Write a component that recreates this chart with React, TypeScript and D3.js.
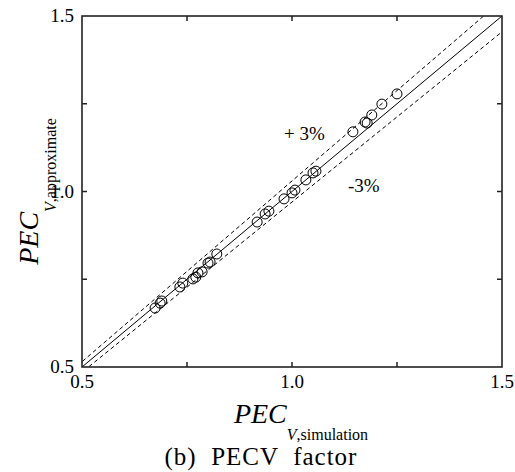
import React, { useRef, useEffect } from "react";
import { select, scaleLinear, line, range } from "d3";

// PEC_V simulation vs approximate values
const simValues = [
  0.674, 0.686, 0.69, 0.733, 0.74, 0.764, 0.771, 0.776, 0.786, 0.8, 0.805, 0.821,
  0.917, 0.936, 0.945, 0.981, 1.0, 1.007, 1.033, 1.05, 1.057,
  1.145, 1.174, 1.179, 1.19, 1.214, 1.25,
];
const approxValues = [
  0.668, 0.682, 0.688, 0.728, 0.739, 0.751, 0.756, 0.768, 0.771, 0.796, 0.799, 0.822,
  0.913, 0.936, 0.944, 0.979, 0.996, 1.004, 1.033, 1.053, 1.058,
  1.17, 1.198, 1.195, 1.218, 1.249, 1.278,
];
const tickLabels = ["0.5", "1.0", "1.5"];
const minorTicks = [0.75, 1.0, 1.25];
const bandFactors = [1.03, 0.97];

const W = 515;
const H = 472;
const left = 82;
const right = 502;
const top = 16;
const bottom = 367;
const serif = "Liberation Serif, DejaVu Serif, serif";

const App: React.FC = () => {
  const svgRef = useRef<SVGSVGElement>(null);

  useEffect(() => {
    const svg = select(svgRef.current);
    svg.selectAll("*").remove();

    const x = scaleLinear().domain([0.5, 1.5]).range([left, right]);
    const y = scaleLinear().domain([0.5, 1.5]).range([bottom, top]);

    svg
      .append("defs")
      .append("clipPath")
      .attr("id", "plot-clip")
      .append("rect")
      .attr("x", left)
      .attr("y", top)
      .attr("width", right - left)
      .attr("height", bottom - top);

    const plot = svg.append("g").attr("clip-path", "url(#plot-clip)");
    const diag = line<number>()
      .x((d) => x(d))
      .y((d) => y(d));
    const xs = range(0.4, 1.61, 0.1);

    plot
      .append("path")
      .attr("d", diag(xs))
      .attr("fill", "none")
      .attr("stroke", "#000")
      .attr("stroke-width", 1);

    bandFactors.forEach((f) => {
      const band = line<number>()
        .x((d) => x(d))
        .y((d) => y(d * f));
      plot
        .append("path")
        .attr("d", band(xs))
        .attr("fill", "none")
        .attr("stroke", "#000")
        .attr("stroke-width", 1)
        .attr("stroke-dasharray", "4,3");
    });

    plot
      .selectAll("circle")
      .data(simValues)
      .join("circle")
      .attr("cx", (d) => x(d))
      .attr("cy", (_, i) => y(approxValues[i]))
      .attr("r", 5)
      .attr("fill", "none")
      .attr("stroke", "#000")
      .attr("stroke-width", 1);

    // frame
    svg
      .append("rect")
      .attr("x", left)
      .attr("y", top)
      .attr("width", right - left)
      .attr("height", bottom - top)
      .attr("fill", "none")
      .attr("stroke", "#222")
      .attr("stroke-width", 1.6);

    // inward ticks on all four sides
    const tk = 5;
    const ticks = svg.append("g").attr("stroke", "#222").attr("stroke-width", 1.5);
    minorTicks.forEach((v) => {
      ticks.append("line").attr("x1", x(v)).attr("x2", x(v)).attr("y1", bottom).attr("y2", bottom - tk);
      ticks.append("line").attr("x1", x(v)).attr("x2", x(v)).attr("y1", top).attr("y2", top + tk);
      ticks.append("line").attr("y1", y(v)).attr("y2", y(v)).attr("x1", left).attr("x2", left + tk);
      ticks.append("line").attr("y1", y(v)).attr("y2", y(v)).attr("x1", right).attr("x2", right - tk);
    });

    const labels = svg.append("g").style("font-family", serif).style("font-size", "19px").attr("fill", "#000");
    labels
      .selectAll(".xt")
      .data(tickLabels)
      .join("text")
      .attr("class", "xt")
      .attr("x", (d) => x(+d))
      .attr("y", bottom + 21)
      .attr("text-anchor", "middle")
      .text((d) => d);
    labels
      .selectAll(".yt")
      .data(tickLabels)
      .join("text")
      .attr("class", "yt")
      .attr("x", left - 8)
      .attr("y", (d) => y(+d) + 6)
      .attr("text-anchor", "end")
      .text((d) => d);

    labels.append("text").attr("x", 284).attr("y", 140).text("+ 3%");
    labels.append("text").attr("x", 348).attr("y", 192).text("-3%");

    // x axis title
    const xt = svg
      .append("text")
      .style("font-family", serif)
      .attr("x", 301)
      .attr("y", 423)
      .attr("text-anchor", "middle");
    xt.append("tspan").style("font-style", "italic").style("font-size", "28px").text("PEC");
    xt.append("tspan").style("font-style", "italic").style("font-size", "16px").attr("dy", 17).text("V");
    xt.append("tspan").style("font-size", "16px").text(",simulation");

    // y axis title
    const yt = svg
      .append("text")
      .style("font-family", serif)
      .attr("transform", `translate(38,${(top + bottom) / 2}) rotate(-90)`)
      .attr("text-anchor", "middle");
    yt.append("tspan").style("font-style", "italic").style("font-size", "28px").text("PEC");
    yt.append("tspan").style("font-style", "italic").style("font-size", "16px").attr("dy", 18).text("V");
    yt.append("tspan").style("font-size", "16px").text(",approximate");

    // caption
    svg
      .append("text")
      .style("font-family", serif)
      .style("font-size", "25px")
      .style("letter-spacing", "1px")
      .style("white-space", "pre")
      .attr("x", 261)
      .attr("y", 465)
      .attr("text-anchor", "middle")
      .text("(b)  PECV  factor");
  });

  return (
    <svg
      ref={svgRef}
      width={W}
      height={H}
      style={{ position: "absolute", left: 0, top: 0, background: "#fff" }}
    ></svg>
  );
};

export default App;
